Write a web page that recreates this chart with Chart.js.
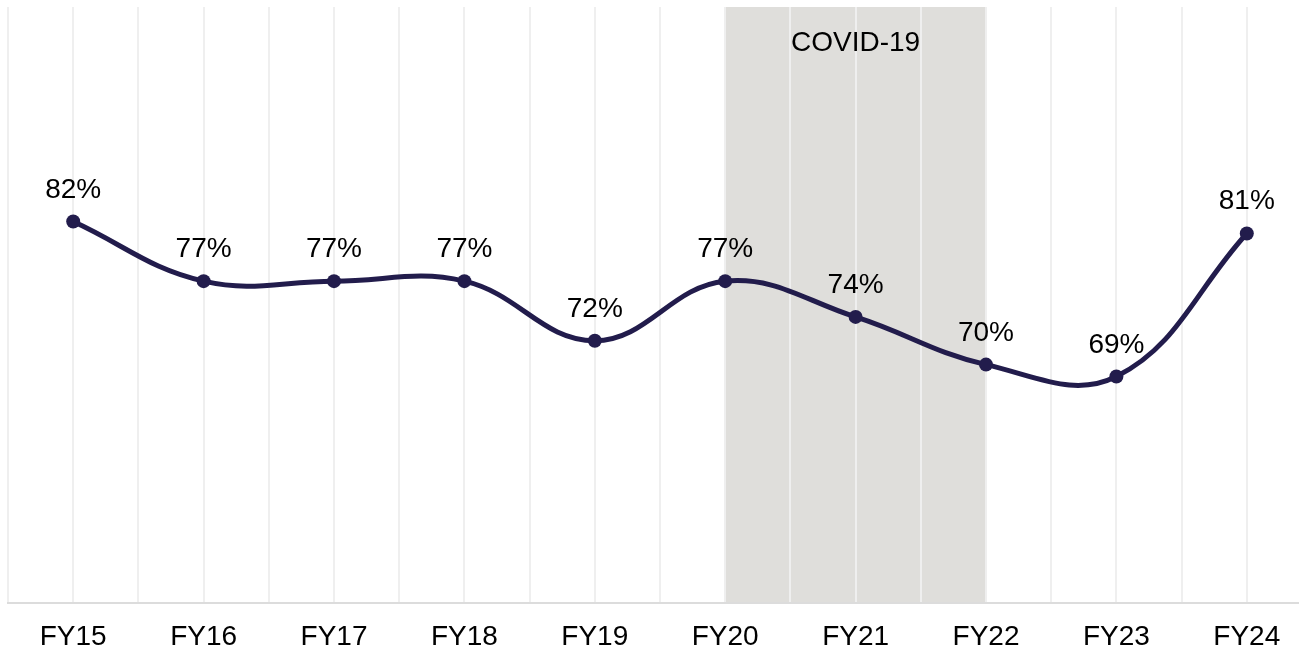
<!DOCTYPE html>
<html>
<head>
<meta charset="utf-8">
<script src="https://cdn.jsdelivr.net/npm/chart.js@4/dist/chart.umd.min.js"></script>
<style>
  html, body { margin: 0; padding: 0; background: #fff; overflow: hidden; }
  #wrap { width: 1319px; height: 653px; }
</style>
</head>
<body>
<div id="wrap"><canvas id="fyChart" width="1319" height="653"></canvas></div>
<script>
const years = ["FY15", "FY16", "FY17", "FY18", "FY19", "FY20", "FY21", "FY22", "FY23", "FY24"];
const rates = [82, 77, 77, 77, 72, 77, 74, 70, 69, 81];
const covidFrom = 5; // FY20
const covidTo = 7;   // FY22
const covidLabel = "COVID-19";

const fontFamily = "'Liberation Sans', Arial, sans-serif";
const lineColor = "#221c4c";

// shaded covid band, drawn before the grid so the grid shows on top of it
const covidBand = {
    id: "covidBand",
    beforeDraw(chart) {
        const { ctx, chartArea, scales } = chart;
        const x1 = scales.x.getPixelForValue(covidFrom);
        const x2 = scales.x.getPixelForValue(covidTo);
        ctx.save();
        ctx.fillStyle = "#dfdedb";
        ctx.fillRect(x1, chartArea.top, x2 - x1, chartArea.bottom - chartArea.top);
        ctx.restore();
    },
};

// value labels above each point + band title
const pointLabels = {
    id: "pointLabels",
    afterDatasetsDraw(chart) {
        const { ctx, chartArea, scales } = chart;
        const meta = chart.getDatasetMeta(0);
        ctx.save();
        ctx.fillStyle = "#000";
        ctx.font = "28px " + fontFamily;
        ctx.textAlign = "center";
        ctx.textBaseline = "alphabetic";
        meta.data.forEach((pt, i) => {
            ctx.fillText(rates[i] + "%", pt.x, pt.y - 24);
        });
        ctx.textBaseline = "middle";
        ctx.fillText(covidLabel, scales.x.getPixelForValue((covidFrom + covidTo) / 2), chartArea.top + 36);
        ctx.restore();
    },
};

const ctx = document.getElementById("fyChart").getContext("2d");
const fyChart = new Chart(ctx, {
    type: "line",
    data: {
        datasets: [
            {
                data: rates.map((v, i) => ({ x: i, y: v })),
                borderColor: lineColor,
                backgroundColor: lineColor,
                borderWidth: 5,
                pointRadius: 7,
                pointBorderWidth: 0,
                pointBackgroundColor: lineColor,
                tension: 0.4,
                fill: false,
            },
        ],
    },
    options: {
        responsive: false,
        animation: false,
        layout: { padding: { left: 8, top: 7, right: 0, bottom: 0 } },
        plugins: {
            legend: { display: false },
            tooltip: { enabled: false },
        },
        scales: {
            x: {
                type: "linear",
                min: -0.5,
                max: 9.5,
                afterFit(scale) {
                    scale.paddingLeft = 0;
                    scale.paddingRight = 0;
                    scale.height = 50;
                },
                grid: {
                    color: "#efefef",
                    lineWidth: 2,
                    drawTicks: false,
                },
                border: { color: "#dcdcdc", width: 2 },
                ticks: {
                    stepSize: 0.5,
                    autoSkip: false,
                    maxRotation: 0,
                    padding: 17,
                    color: "#000",
                    font: { family: fontFamily, size: 28 },
                    callback: (v) => (Number.isInteger(v) ? years[v] : ""),
                },
            },
            y: {
                display: false,
                min: 50,
                max: 100,
            },
        },
    },
    plugins: [covidBand, pointLabels],
});
</script>
</body>
</html>
